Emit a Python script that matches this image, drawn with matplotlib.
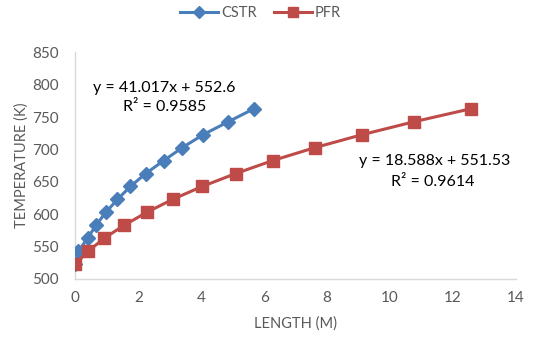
import matplotlib.pyplot as plt

plt.rcParams['font.family'] = ['Lato', 'DejaVu Sans']

# reactor length (m) vs temperature (K)
cstr_length = [0.0, 0.10, 0.39, 0.66, 0.97, 1.34, 1.75, 2.24, 2.81, 3.40, 4.06, 4.86, 5.67]
cstr_temp = [523, 543, 563, 583, 603, 623, 643, 663, 683, 703, 723, 743, 763]
pfr_length = [0.0, 0.41, 0.92, 1.55, 2.27, 3.09, 4.03, 5.10, 6.27, 7.61, 9.11, 10.76, 12.56]
pfr_temp = [523, 543, 563, 583, 603, 623, 643, 663, 683, 703, 723, 743, 763]

x_ticks = [0, 2, 4, 6, 8, 10, 12, 14]
y_ticks = [500, 550, 600, 650, 700, 750, 800, 850]

BLUE = '#4A7EBB'
RED = '#BE4B48'
GREY = '#595959'


def main():
    fig = plt.figure(figsize=(5.37, 3.38), dpi=100)
    ax = fig.add_axes([0.1402, 0.1746, 0.8208, 0.6701])

    ax.plot(cstr_length, cstr_temp, color=BLUE, lw=2.2, marker='D',
            markersize=7.5, label='CSTR', zorder=3)
    ax.plot(pfr_length, pfr_temp, color=RED, lw=2.2, marker='s',
            markersize=9, label='PFR', zorder=4)

    ax.set_xlim(0, 14)
    ax.set_ylim(500, 850)
    ax.set_xticks(x_ticks)
    ax.set_yticks(y_ticks)
    ax.tick_params(length=0, labelsize=11, labelcolor=GREY, pad=9)
    ax.tick_params(axis='y', pad=12)

    for side in ('top', 'right'):
        ax.spines[side].set_visible(False)
    for side in ('left', 'bottom'):
        ax.spines[side].set_color('#D9D9D9')
        ax.spines[side].set_linewidth(1)

    ax.set_xlabel('LENGTH (M)', fontsize=10.5, color=GREY, labelpad=8)
    ax.set_ylabel('TEMPERATURE (K)', fontsize=10.5, color=GREY, labelpad=2)

    # trendline equations
    ax.text(2.84, 795, 'y = 41.017x + 552.6', fontsize=11.5,
            ha='center', va='center', color='black')
    ax.text(2.84, 765, 'R² = 0.9585', fontsize=11.5, ha='center',
            va='center', color='black')
    ax.text(13.8, 683, 'y = 18.588x + 551.53', fontsize=11.5,
            ha='right', va='center', color='black')
    ax.text(11.35, 650, 'R² = 0.9614', fontsize=11.5, ha='center',
            va='center', color='black')

    fig.legend(loc='upper center', bbox_to_anchor=(0.485, 1.02), ncol=2,
               frameon=False, fontsize=10.5, labelcolor=GREY,
               handlelength=2.6, columnspacing=1.2, handletextpad=0.2,
               markerscale=0.8)

    fig.savefig('out.png', dpi=100)


if __name__ == "__main__":
    main()
